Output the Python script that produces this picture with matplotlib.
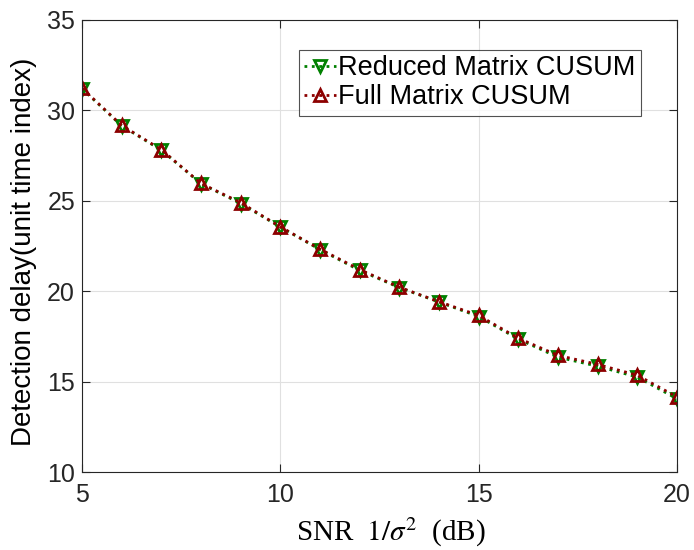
import matplotlib
matplotlib.use('Agg')
import matplotlib.pyplot as plt

# SNR (dB) and detection delay
snr = [5, 6, 7, 8, 9, 10, 11, 12, 13, 14, 15, 16, 17, 18, 19, 20]
reduced = [31.2, 29.15, 27.8, 25.95, 24.85, 23.55, 22.3, 21.15, 20.2, 19.4, 18.6, 17.35, 16.35, 15.85, 15.25, 14.05]
full = [31.23, 29.17, 27.83, 25.96, 24.9, 23.56, 22.33, 21.2, 20.22, 19.42, 18.66, 17.4, 16.45, 15.95, 15.35, 14.15]

plt.rcParams['font.family'] = ['Liberation Sans', 'DejaVu Sans']
plt.rcParams['mathtext.fontset'] = 'stix'

fig = plt.figure(figsize=(6.94, 5.5), dpi=100)
ax = fig.add_axes([82 / 694, 1 - 472 / 550, 595 / 694, 452 / 550])

ax.plot(snr, reduced, ':', color=(0, 0.5, 0), marker='v', markersize=9,
        markerfacecolor='none', markeredgewidth=2, linewidth=2,
        label='Reduced Matrix CUSUM')
ax.plot(snr, full, ':', color=(0.55, 0, 0), marker='^', markersize=9,
        markerfacecolor='none', markeredgewidth=2, linewidth=2,
        label='Full Matrix CUSUM')

ax.set_xlim(5, 20)
ax.set_ylim(10, 35)
ax.set_xticks([5, 10, 15, 20])
ax.set_yticks([10, 15, 20, 25, 30, 35])
ax.grid(True, color=(0.88, 0.88, 0.88), linewidth=0.8)
ax.set_axisbelow(True)
ax.tick_params(direction='in', top=True, right=True, labelsize=18,
               colors=(0.15, 0.15, 0.15), length=6, width=0.8)
ax.tick_params(axis='x', pad=8)
ax.tick_params(axis='y', pad=5)
for s in ax.spines.values():
    s.set_color((0.15, 0.15, 0.15))

ax.set_xlabel(r'SNR $\ 1/\sigma^2\ $ (dB)', family='Liberation Serif', fontsize=21, labelpad=6)
ax.xaxis.label.set_x(0.52)
ax.set_ylabel('Detection delay(unit time index)', fontsize=20, labelpad=7)
ax.yaxis.label.set_y(0.487)

leg = ax.legend(loc='upper left', bbox_to_anchor=(217 / 595, 422 / 452), fontsize=19.5,
                fancybox=False, edgecolor=(0.15, 0.15, 0.15), handlelength=1.15,
                handletextpad=0.1, borderpad=0.2, labelspacing=0.1, borderaxespad=0)
leg.get_frame().set_linewidth(0.8)

fig.savefig('out.png', dpi=100)
